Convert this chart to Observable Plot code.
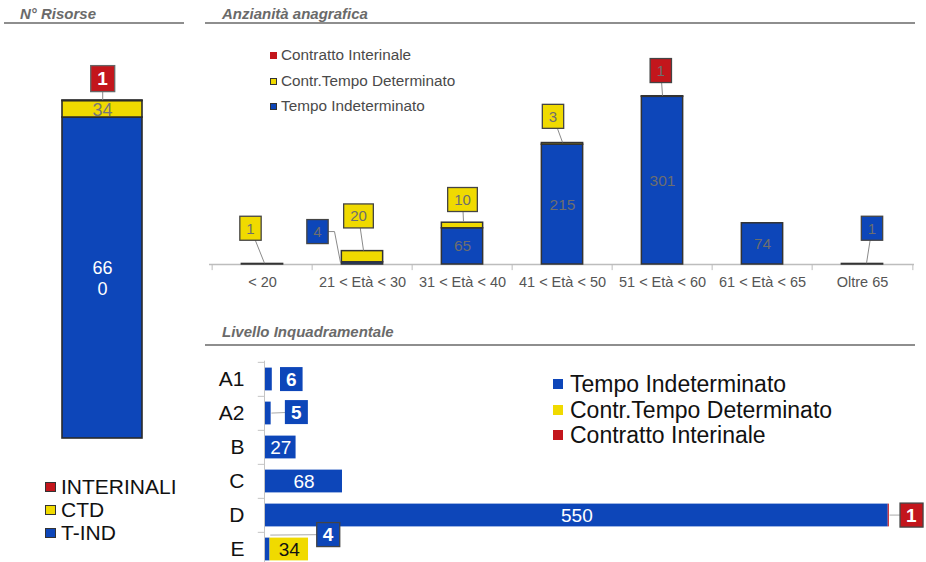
<!DOCTYPE html>
<html><head><meta charset="utf-8">
<script src="https://cdn.jsdelivr.net/npm/d3@7"></script>
<script src="https://cdn.jsdelivr.net/npm/@observablehq/plot@0.6"></script>
<style>
html,body{margin:0;padding:0;background:#fff;}
#root{position:relative;width:926px;height:562px;overflow:hidden;background:#fff;font-family:"Liberation Sans",Arial,sans-serif;}
.title{position:absolute;font-weight:bold;font-style:italic;font-size:15px;color:#6a6a6a;line-height:18px;white-space:nowrap;}
.rule{position:absolute;height:2px;background:#8e8e8e;}
.plot{position:absolute;}
.plot svg{overflow:visible;}
.lg{position:absolute;white-space:nowrap;display:flex;align-items:center;}
.sw{display:inline-block;box-sizing:border-box;flex:none;}
</style></head>
<body><div id="root"></div>
<script>
// ---------------- DATA ----------------
const seriesNames = ["Tempo Indeterminato", "Contr.Tempo Determinato", "Contratto Interinale"];
const seriesCodes = ["TI", "CTD", "INT"];

const totalCategory = ["N° Risorse"];
const totalLabels = ["T-IND", "CTD", "INTERINALI"];
const totalValues = [660, 34, 1];

const ageGroups = ["< 20", "21 < Età < 30", "31 < Età < 40", "41 < Età < 50", "51 < Età < 60", "61 < Età < 65", "Oltre 65"];
const ageTI  = [0, 4, 65, 215, 301, 74, 1];
const ageCTD = [1, 20, 10, 3, 0, 0, 0];
const ageINT = [0, 0, 0, 0, 1, 0, 0];

const levels = ["A1", "A2", "B", "C", "D", "E"];
const levelTI  = [6, 5, 27, 68, 550, 4];
const levelCTD = [0, 0, 0, 0, 0, 34];
const levelINT = [0, 0, 0, 0, 1, 0];

// ---------------- STYLE ----------------
const BLUE = "#0d46b9", YELLOW = "#f0da00", RED = "#c3161c";
const seriesColors = [BLUE, YELLOW, RED];
const colorOf = code => seriesColors[seriesCodes.indexOf(code)];
const FONT = "'Liberation Sans', Arial, sans-serif";

function buildRows(cats, seriesValues) {
  const rows = [];
  cats.forEach((c, i) => {
    let acc = 0;
    seriesValues.forEach((vals, k) => {
      const v = vals[i];
      rows.push({cat: c, series: seriesNames[k], code: seriesCodes[k], value: v, start: acc, end: acc + v, mid: acc + v / 2});
      acc += v;
    });
  });
  return rows;
}

function callouts(rows, layout, base) {
  const items = [], marks = [];
  for (const r of rows) {
    if (!(r.value > 0 && r.value < base.threshold)) continue;
    const L = layout[r.cat + "|" + r.code];
    if (!L) continue;
    const it = Object.assign({}, base, L, {fill: colorOf(r.code)});
    items.push(it);
    const pos = base.horizontal ? {y: "cat", x: "end"} : {x: "cat", y: "end"};
    marks.push(Plot.text([r], Object.assign(pos, {
      text: d => String(d.value), dx: it.dx, dy: it.dy, fill: it.textFill,
      fontSize: it.fontSize, fontWeight: it.fontWeight || "normal", ariaDescription: "callout"
    })));
  }
  return {items, marks};
}

function decorate(svg, items) {
  const ns = "http://www.w3.org/2000/svg";
  const texts = svg.querySelectorAll('g[aria-description="callout"] text');
  texts.forEach((t, i) => {
    const it = items[i]; if (!it) return;
    const g = t.parentNode;
    const b = t.getBBox();
    const m = g.getCTM().inverse().multiply(t.getCTM());
    const p = svg.createSVGPoint(); p.x = b.x + b.width / 2; p.y = b.y + b.height / 2;
    const c = p.matrixTransform(m);
    const w = b.width + 2 * it.padX, h = b.height + 2 * it.padY;
    if (!it.noLine) {
      const ax = c.x - it.dx + (it.adx || 0), ay = c.y - it.dy + (it.ady || 0);
      const pts = [[c.x, c.y]];
      if (it.elbow) pts.push([c.x + it.elbow, c.y]);
      pts.push([ax, ay]);
      const pl = document.createElementNS(ns, "polyline");
      pl.setAttribute("points", pts.map(q => q.join(",")).join(" "));
      pl.setAttribute("fill", "none");
      pl.setAttribute("stroke", it.lineColor || "#888");
      pl.setAttribute("stroke-width", 1);
      g.insertBefore(pl, g.firstChild);
    }
    const rc = document.createElementNS(ns, "rect");
    rc.setAttribute("x", c.x - w / 2); rc.setAttribute("y", c.y - h / 2);
    rc.setAttribute("width", w); rc.setAttribute("height", h);
    rc.setAttribute("fill", it.fill);
    if (it.boxStroke) { rc.setAttribute("stroke", it.boxStroke); rc.setAttribute("stroke-width", it.boxStrokeWidth || 1.3); }
    g.insertBefore(rc, t);
  });
}

const root = document.getElementById("root");
function el(cls, css, text) {
  const d = document.createElement("div");
  d.className = cls; d.style.cssText = css;
  if (text != null) d.textContent = text;
  root.appendChild(d); return d;
}
function place(plot, left, top) {
  const w = document.createElement("div");
  w.className = "plot"; w.style.left = left + "px"; w.style.top = top + "px";
  w.appendChild(plot); root.appendChild(w); return plot;
}

// ---------------- TITLES ----------------
el("title", "left:20px;top:5px;", "N° Risorse");
el("rule", "left:4px;top:22px;width:180px;");
el("title", "left:222px;top:5px;", "Anzianità anagrafica");
el("rule", "left:205px;top:22px;width:710px;");
el("title", "left:222px;top:323px;", "Livello Inquadramentale");
el("rule", "left:205px;top:344px;width:710px;");

// ---------------- LEFT: N° Risorse ----------------
const totalRows = buildRows(totalCategory, totalValues.map(v => [v]));
const totCall = callouts(totalRows, {
  "N° Risorse|INT": {dx: 0, dy: -21.5}
}, {threshold: 30, fontSize: 19, fontWeight: "bold", textFill: "#fff", padX: 6.5, padY: 2.5, boxStroke: "#666", lineColor: "#888"});

const plotTotal = Plot.plot({
  width: 180, height: 420, marginLeft: 58, marginRight: 42, marginTop: 0, marginBottom: 12,
  style: {fontFamily: FONT, fontSize: "16px", background: "transparent", overflow: "visible"},
  x: {domain: totalCategory, padding: 0, axis: null},
  y: {domain: [0, 839], axis: null},
  color: {domain: seriesNames, range: seriesColors},
  marks: [
    Plot.barY(totalRows.filter(d => d.value > 0), {x: "cat", y1: "start", y2: "end", fill: "series", stroke: "#2a2a2a", strokeWidth: 1.6}),
    Plot.text(totalRows.filter(d => d.value >= 30), {
      x: "cat", y: "mid", fontSize: 18, lineHeight: 1.15,
      text: d => d.code === "TI" ? String(d.value).replace(/^(\d\d)(\d+)$/, "$1\n$2") : String(d.value),
      fill: d => d.code === "TI" ? "#fff" : "#777"
    }),
    ...totCall.marks
  ]
});
place(plotTotal, 4, 30);

// left legend
[2, 1, 0].forEach((k, j) => {
  const row = el("lg", `left:45px;top:${[476, 499, 522][j]}px;height:22px;font-size:21px;color:#111;`);
  const s = document.createElement("span"); s.className = "sw";
  s.style.cssText = `width:11px;height:10px;background:${seriesColors[k]};border:1.3px solid #333;margin-right:5px;`;
  row.appendChild(s); row.appendChild(document.createTextNode(totalLabels[k]));
});

// ---------------- TOP: Anzianità anagrafica ----------------
const W1 = 712, H1 = 270, ML1 = 4, MR1 = 3, MB1 = 36;
const step1 = (W1 - ML1 - MR1) / ageGroups.length;
const barW1 = 42;
const ageRows = buildRows(ageGroups, [ageTI, ageCTD, ageINT]);
const ageCall = callouts(ageRows, {
  "< 20|CTD": {dx: -12, dy: -35, adx: 2},
  "21 < Età < 30|TI": {dx: -45, dy: -30, adx: -22, ady: 1, elbow: 17},
  "21 < Età < 30|CTD": {dx: -4, dy: -34.5, adx: 1},
  "31 < Età < 40|CTD": {dx: 0, dy: -22.5, adx: 1},
  "41 < Età < 50|CTD": {dx: -9.5, dy: -26},
  "51 < Età < 60|INT": {dx: -1.7, dy: -25},
  "Oltre 65|TI": {dx: 9.5, dy: -35, adx: 4}
}, {threshold: 30, fontSize: 15, textFill: "#6e6e6e", padX: 6.5, padY: 3.5, boxStroke: "#444", lineColor: "#8a8a8a"});

const plotAge = Plot.plot({
  width: W1, height: H1, marginLeft: ML1, marginRight: MR1, marginTop: 0, marginBottom: MB1,
  style: {fontFamily: FONT, fontSize: "14.5px", color: "#555", background: "transparent", overflow: "visible"},
  x: {domain: ageGroups, padding: 0, tickSize: 0, tickPadding: 12, label: null},
  y: {domain: [0, 420], axis: null},
  color: {domain: seriesNames, range: seriesColors},
  marks: [
    Plot.ruleY([0], {stroke: "#bdbdbd", strokeWidth: 1.3}),
    Plot.ruleX(ageGroups, {x: d => d, y1: 0, y2: -11, dx: -step1 / 2, stroke: "#bdbdbd"}),
    Plot.ruleX(ageGroups.slice(-1), {x: d => d, y1: 0, y2: -11, dx: step1 / 2, stroke: "#bdbdbd"}),
    Plot.barY(ageRows.filter(d => d.value > 0), {
      x: "cat", y1: "start", y2: "end", fill: "series", stroke: "#333", strokeWidth: 1.5,
      insetLeft: (step1 - barW1) / 2, insetRight: (step1 - barW1) / 2
    }),
    Plot.text(ageRows.filter(d => d.value >= 30), {x: "cat", y: "mid", text: d => String(d.value), fill: "#6e6e6e", fontSize: 15.5}),
    ...ageCall.marks
  ]
});
place(plotAge, 205, 30);

// top legend
[2, 1, 0].forEach((k, j) => {
  const row = el("lg", `left:270px;top:${[46, 72, 97][j]}px;height:18px;font-size:15.3px;color:#4a4a4a;`);
  const s = document.createElement("span"); s.className = "sw";
  s.style.cssText = `width:7px;height:7px;background:${seriesColors[k]};${k === 2 ? "" : "border:1.2px solid #333;"}margin-right:4px;`;
  row.appendChild(s); row.appendChild(document.createTextNode(seriesNames[k]));
});

// ---------------- BOTTOM: Livello Inquadramentale ----------------
const W3 = 721, H3 = 220, ML3 = 60, MR3 = 38.3, MT3 = 10.7, MB3 = 3.5;
const step3 = (H3 - MT3 - MB3) / levels.length;
const levelRows = buildRows(levels, [levelTI, levelCTD, levelINT]);
const lvlCall = callouts(levelRows, {
  "A1|TI": {dx: 19, dy: 0, noLine: true},
  "A2|TI": {dx: 25, dy: -1},
  "E|TI": {dx: 58, dy: -14.5, ady: -14, boxStroke: "#444"},
  "D|INT": {dx: 22, dy: 0, boxStroke: "#444"}
}, {threshold: 20, horizontal: true, fontSize: 19, fontWeight: "bold", textFill: "#fff", padX: 6, padY: 1.5, boxStroke: null, lineColor: "#aaa"});

const plotLevel = Plot.plot({
  width: W3, height: H3, marginLeft: ML3, marginRight: MR3, marginTop: MT3, marginBottom: MB3,
  style: {fontFamily: FONT, fontSize: "21px", color: "#111", background: "transparent", overflow: "visible"},
  x: {domain: [0, 550], axis: null},
  y: {domain: levels, padding: 0, tickSize: 0, tickPadding: 21, label: null},
  color: {domain: seriesNames, range: seriesColors},
  marks: [
    Plot.ruleX([0], {stroke: "#c4c4c4", dx: -1}),
    Plot.ruleY(levels, {y: d => d, x1: -5.5, x2: 0, dy: -step3 / 2, dx: -1, stroke: "#c4c4c4"}),
    Plot.ruleY(levels.slice(-1), {y: d => d, x1: -5.5, x2: 0, dy: step3 / 2, dx: -1, stroke: "#c4c4c4"}),
    Plot.barX(levelRows.filter(d => d.value > 0), {y: "cat", x1: "start", x2: "end", fill: "series", insetTop: 5.6, insetBottom: 5.6}),
    Plot.text(levelRows.filter(d => d.value >= 20), {
      y: "cat", x: "mid", text: d => String(d.value), fontSize: 19,
      fill: d => d.code === "CTD" ? "#111" : "#fff"
    }),
    ...lvlCall.marks
  ]
});
place(plotLevel, 205, 350);

// bottom legend
[0, 1, 2].forEach((k, j) => {
  const row = el("lg", `left:553px;top:${[370, 396, 421][j]}px;height:28px;font-size:23px;color:#111;`);
  const s = document.createElement("span"); s.className = "sw";
  s.style.cssText = `width:10px;height:10px;background:${seriesColors[k]};margin-right:7px;`;
  row.appendChild(s); row.appendChild(document.createTextNode(seriesNames[k]));
});

decorate(plotTotal, totCall.items);
decorate(plotAge, ageCall.items);
decorate(plotLevel, lvlCall.items);
</script>
</body></html>
